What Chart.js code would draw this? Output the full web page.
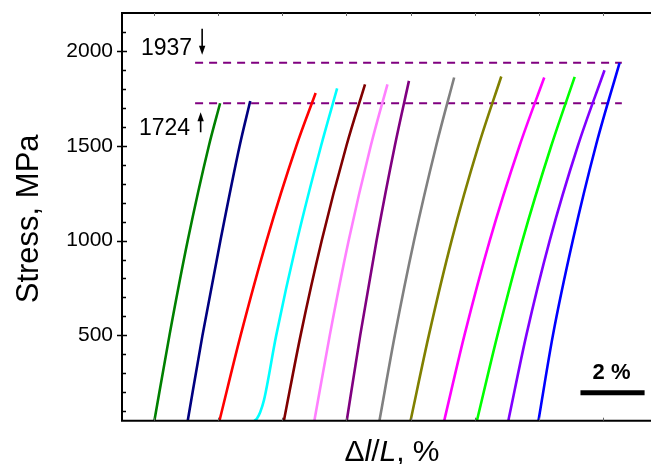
<!DOCTYPE html>
<html>
<head>
<meta charset="utf-8">
<script src="https://cdn.jsdelivr.net/npm/chart.js@4.4.1/dist/chart.umd.min.js"></script>
<style>
  html, body { margin: 0; padding: 0; background: #fff; }
</style>
</head>
<body>
<canvas id="stressChart" width="651" height="464"></canvas>
<script>
// Stress-strain curves, strain in %, stress in MPa
const strain1 = [1.01, 1.48, 2.05, 2.71, 3.06];
const stress1 = [50, 500, 1000, 1500, 1724];
const strain2 = [2.05, 2.51, 3.07, 3.67, 4.00];
const stress2 = [50, 500, 1000, 1500, 1736];
const strain3 = [3.04, 3.70, 4.51, 5.44, 6.04];
const stress3 = [50, 500, 1000, 1500, 1778];
const strain4 = [4.13, 4.21, 4.31, 4.43, 4.81, 5.46, 6.21, 6.71];
const stress4 = [50, 62, 95, 160, 500, 1000, 1500, 1802];
const strain5 = [5.05, 5.57, 6.23, 7.00, 7.58];
const stress5 = [50, 500, 1000, 1500, 1824];
const strain6 = [6.00, 6.48, 7.07, 7.76, 8.28];
const stress6 = [50, 500, 1000, 1500, 1824];
const strain7 = [7.01, 7.43, 7.94, 8.51, 8.95];
const stress7 = [50, 500, 1000, 1500, 1842];
const strain8 = [8.03, 8.51, 9.11, 9.80, 10.36];
const stress8 = [50, 500, 1000, 1500, 1860];
const strain9 = [9.00, 9.57, 10.28, 11.12, 11.83];
const stress9 = [50, 500, 1000, 1500, 1865];
const strain10 = [10.05, 10.68, 11.47, 12.40, 13.17];
const stress10 = [50, 500, 1000, 1500, 1860];
const strain11 = [11.07, 11.71, 12.49, 13.39, 14.12];
const stress11 = [50, 500, 1000, 1500, 1863];
const strain12 = [12.05, 12.61, 13.34, 14.22, 15.05];
const stress12 = [50, 500, 1000, 1500, 1898];
const strain13 = [12.99, 13.44, 14.06, 14.78, 15.52];
const stress13 = [50, 500, 1000, 1500, 1937];

const curveColors = ['#008000', '#000080', '#ff0000', '#00ffff', '#800000', '#ff80ff', '#800080',
                     '#808080', '#808000', '#ff00ff', '#00ff00', '#8000ff', '#0000ff'];

// dashed levels and their labels
const levelStress = [1937, 1724];
const levelStrain = [2.28, 15.59];

// 2 % scale bar
const barStrain = [14.3, 16.3];
const barStress = 198;

const yTicks = [500, 1000, 1500, 2000];
const yMinor = [100, 200, 300, 400, 600, 700, 800, 900, 1100, 1200, 1300, 1400, 1600, 1700, 1800, 1900, 2100];
const xTicks = [1, 3, 5, 7, 9, 11, 13, 15];

const FONT = '"Liberation Sans", Arial, Helvetica, sans-serif';

function toPoints(xs, ys) {
    return xs.map((x, i) => ({ x: x, y: Array.isArray(ys) ? ys[i] : ys }));
}

const strains = [strain1, strain2, strain3, strain4, strain5, strain6, strain7, strain8, strain9, strain10, strain11, strain12, strain13];
const stresses = [stress1, stress2, stress3, stress4, stress5, stress6, stress7, stress8, stress9, stress10, stress11, stress12, stress13];

const datasets = strains.map((s, i) => ({
    data: toPoints(s, stresses[i]),
    borderColor: curveColors[i],
    borderWidth: 2.6,
    cubicInterpolationMode: 'monotone'
}));

levelStress.forEach(v => {
    datasets.push({
        data: toPoints(levelStrain, v),
        borderColor: '#800080',
        borderWidth: 2,
        borderDash: [8, 6],
        tension: 0
    });
});

datasets.push({
    data: toPoints(barStrain, barStress),
    borderColor: '#000',
    borderWidth: 5,
    borderCapStyle: 'butt',
    tension: 0
});

function drawArrow(ctx, x, tail, tip) {
    const dir = tip > tail ? 1 : -1;
    ctx.beginPath();
    ctx.moveTo(x, tail);
    ctx.lineTo(x, tip - dir * 6);
    ctx.stroke();
    ctx.beginPath();
    ctx.moveTo(x, tip);
    ctx.lineTo(x - 3.2, tip - dir * 9);
    ctx.lineTo(x + 3.2, tip - dir * 9);
    ctx.closePath();
    ctx.fill();
}

function drawRich(ctx, parts, cx, baseline) {
    let total = 0;
    parts.forEach(p => { ctx.font = p.font; total += ctx.measureText(p.text).width; });
    let x = cx - total / 2;
    ctx.textAlign = 'left';
    parts.forEach(p => {
        ctx.font = p.font;
        ctx.fillText(p.text, x, baseline);
        x += ctx.measureText(p.text).width;
    });
}

const framePlugin = {
    id: 'framePlugin',
    afterDraw(chart) {
        const ctx = chart.ctx;
        const a = chart.chartArea;
        const xs = chart.scales.x;
        const ys = chart.scales.y;
        ctx.save();
        ctx.strokeStyle = '#000';
        ctx.fillStyle = '#000';

        // frame: top, left, bottom
        ctx.lineWidth = 2;
        ctx.beginPath();
        ctx.moveTo(a.right, a.top);
        ctx.lineTo(a.left, a.top);
        ctx.lineTo(a.left, a.bottom);
        ctx.lineTo(a.right, a.bottom);
        ctx.stroke();

        // y ticks
        ctx.lineWidth = 1.5;
        ctx.beginPath();
        yTicks.forEach(v => {
            const y = Math.round(ys.getPixelForValue(v)) + 0.5;
            ctx.moveTo(a.left - 5, y);
            ctx.lineTo(a.left + 5, y);
        });
        yMinor.forEach(v => {
            const y = Math.round(ys.getPixelForValue(v)) + 0.5;
            ctx.moveTo(a.left, y);
            ctx.lineTo(a.left + 4, y);
        });
        ctx.stroke();

        // x ticks, top and bottom
        ctx.strokeStyle = '#666';
        ctx.lineWidth = 1;
        ctx.beginPath();
        xTicks.forEach(v => {
            const x = Math.round(xs.getPixelForValue(v)) + 0.5;
            ctx.moveTo(x, a.top);
            ctx.lineTo(x, a.top + 3);
            ctx.moveTo(x, a.bottom);
            ctx.lineTo(x, a.bottom - 3);
        });
        ctx.stroke();

        // level labels with arrows
        ctx.strokeStyle = '#000';
        ctx.lineWidth = 1.6;
        ctx.textAlign = 'right';
        ctx.textBaseline = 'alphabetic';
        ctx.font = '23px ' + FONT;
        const yHigh = ys.getPixelForValue(levelStress[0]);
        const yLow = ys.getPixelForValue(levelStress[1]);
        const arrowX = xs.getPixelForValue(2.5);
        ctx.fillText(String(levelStress[0]), arrowX - 10, yHigh - 7.5);
        drawArrow(ctx, arrowX, yHigh - 34, yHigh - 8);
        ctx.fillText(String(levelStress[1]), arrowX - 12, yLow + 32);
        drawArrow(ctx, arrowX - 1.5, yLow + 29, yLow + 9);

        // scale bar label
        ctx.textAlign = 'center';
        ctx.font = 'bold 22px ' + FONT;
        const barMid = xs.getPixelForValue((barStrain[0] + barStrain[1]) / 2);
        ctx.fillText('2 %', barMid - 1, ys.getPixelForValue(barStress) - 14);

        // axis titles
        ctx.font = '31px ' + FONT;
        ctx.save();
        ctx.translate(38, (a.top + a.bottom) / 2 + 2);
        ctx.rotate(-Math.PI / 2);
        ctx.textAlign = 'center';
        ctx.fillText('Stress, MPa', 0, 0);
        ctx.restore();

        drawRich(ctx, [
            { text: '\u0394', font: '30px ' + FONT },
            { text: 'l', font: 'italic 30px ' + FONT },
            { text: '/', font: '30px ' + FONT },
            { text: 'L', font: 'italic 30px ' + FONT },
            { text: ', %', font: '30px ' + FONT }
        ], 392, 461);

        ctx.restore();
    }
};

new Chart(document.getElementById('stressChart'), {
    type: 'scatter',
    data: { datasets: datasets },
    options: {
        responsive: false,
        animation: false,
        showLine: true,
        elements: { point: { radius: 0, hoverRadius: 0 } },
        layout: { padding: { left: 0, top: 13, right: 0, bottom: 43.3 } },
        plugins: {
            legend: { display: false },
            tooltip: { enabled: false }
        },
        scales: {
            x: {
                type: 'linear',
                display: false,
                min: 0,
                max: 16.5
            },
            y: {
                type: 'linear',
                min: 50,
                max: 2200,
                grid: { display: false, drawTicks: false },
                border: { display: false },
                afterFit: scale => {
                    scale.width = 122;
                    scale.paddingTop = 0;
                    scale.paddingBottom = 0;
                },
                afterBuildTicks: scale => { scale.ticks = yTicks.map(v => ({ value: v })); },
                ticks: {
                    padding: 9,
                    color: '#000',
                    font: { family: FONT, size: 21 },
                    callback: v => String(v)
                }
            }
        }
    },
    plugins: [framePlugin]
});
</script>
</body>
</html>
